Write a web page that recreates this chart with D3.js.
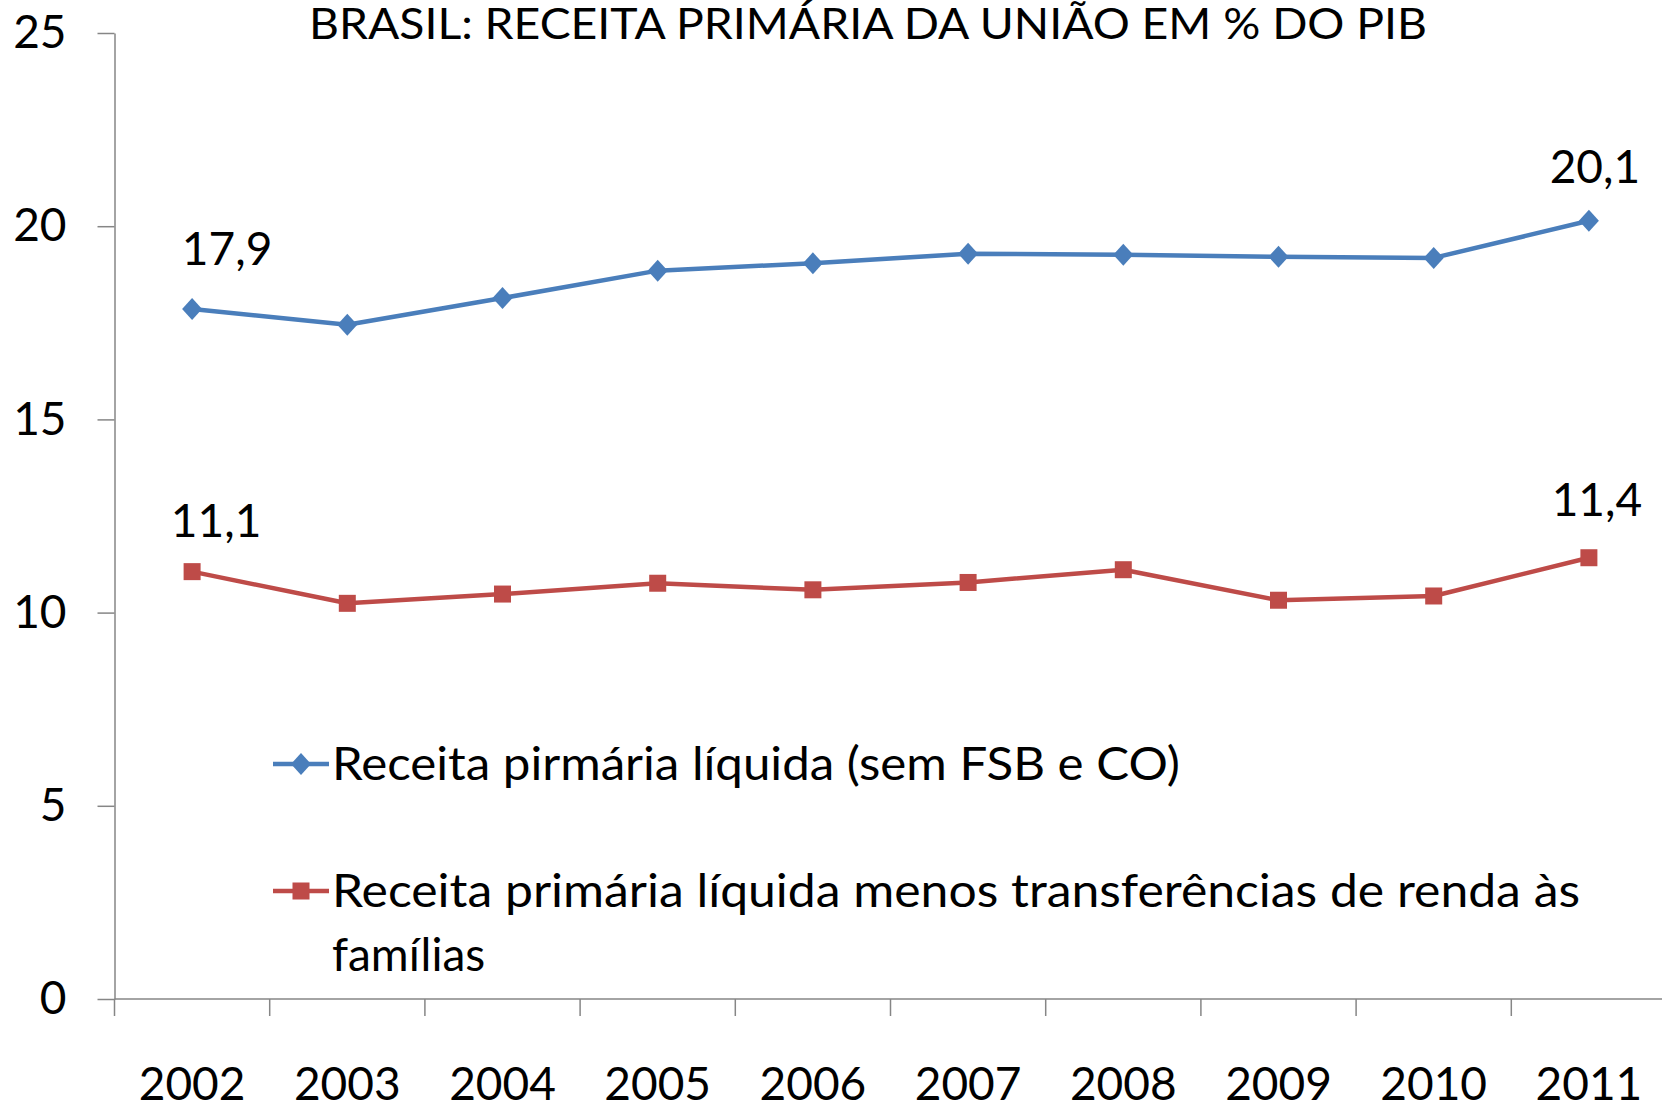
<!DOCTYPE html>
<html><head><meta charset="utf-8">
<script src="https://cdn.jsdelivr.net/npm/d3@7"></script>
<style>
html,body{margin:0;padding:0;background:#fff;}
text{font-family:Lato,"Open Sans",sans-serif;fill:#000;}
</style></head>
<body>
<svg id="chart" width="1662" height="1106"></svg>
<script>
const years = ["2002","2003","2004","2005","2006","2007","2008","2009","2010","2011"];
const receitaLiquida = [17.86,17.45,18.14,18.85,19.04,19.29,19.26,19.21,19.18,20.14];
const receitaMenosTransf = [11.06,10.24,10.48,10.76,10.59,10.78,11.11,10.32,10.43,11.42];
const yTicks = [0,5,10,15,20,25];
const seriesNames = ["Receita pirmária líquida (sem FSB e CO)",
  "Receita primária líquida menos transferências de renda às famílias"];
const title = "BRASIL: RECEITA PRIMÁRIA DA UNIÃO EM % DO PIB";

(function(){
const blue = "#4A7EBB", red = "#BE4B48", axisCol = "#868686";
const svg = d3.select("#chart");
const plotLeft = 114.5, bandW = 155.2, plotTop = 33, plotBottom = 999;

const x = d3.scaleBand().domain(years).range([plotLeft, plotLeft + bandW*years.length]).padding(0);
const y = d3.scaleLinear().domain([0,25]).range([plotBottom, plotTop]);
const cx = d => x(d) + x.bandwidth()/2;

// Title
svg.append("text").attr("x", 868).attr("y", 39).attr("text-anchor","middle")
  .attr("font-size", 43).attr("textLength", 1118).attr("lengthAdjust","spacingAndGlyphs").text(title);

// Y axis
const yAxis = svg.append("g").attr("transform", `translate(${plotLeft},0)`)
  .call(d3.axisLeft(y).tickValues(yTicks).tickSize(17).tickSizeOuter(0).tickPadding(31).tickFormat(d3.format("d")));
yAxis.select(".domain").attr("stroke", axisCol).attr("stroke-width", 1.5);
yAxis.selectAll(".tick line").attr("stroke", axisCol).attr("stroke-width", 1.5);
yAxis.selectAll(".tick text").attr("font-size", 46).attr("font-family","Lato").attr("fill","#000");

// X axis
const xg = svg.append("g");
xg.append("line").attr("x1", plotLeft).attr("x2", 1662).attr("y1", plotBottom).attr("y2", plotBottom)
  .attr("stroke", axisCol).attr("stroke-width", 1.5);
const bounds = years.map(d => x(d)).concat([x(years[years.length-1]) + x.bandwidth()]);
xg.selectAll(".xt").data(bounds).enter().append("line")
  .attr("x1", d=>d).attr("x2", d=>d).attr("y1", plotBottom).attr("y2", plotBottom+17)
  .attr("stroke", axisCol).attr("stroke-width", 1.5);
xg.selectAll(".xl").data(years).enter().append("text")
  .attr("x", d=>cx(d)).attr("y", 1100).attr("text-anchor","middle").attr("font-size", 46).text(d=>d);

// Lines
const line = d3.line().x((d,i)=>cx(years[i])).y(d=>y(d));
svg.append("path").datum(receitaLiquida).attr("d", line).attr("fill","none")
  .attr("stroke", blue).attr("stroke-width", 4.5).attr("stroke-linejoin","round");
svg.append("path").datum(receitaMenosTransf).attr("d", line).attr("fill","none")
  .attr("stroke", red).attr("stroke-width", 4.5).attr("stroke-linejoin","round");

const diamond = (g, px, py) => g.append("path")
  .attr("d", `M${px},${py-11}L${px+10},${py}L${px},${py+11}L${px-10},${py}Z`).attr("fill", blue);
const square = (g, px, py) => g.append("rect")
  .attr("x", px-8.5).attr("y", py-8.5).attr("width",17).attr("height",17).attr("fill", red);

receitaLiquida.forEach((v,i)=>diamond(svg, cx(years[i]), y(v)));
receitaMenosTransf.forEach((v,i)=>square(svg, cx(years[i]), y(v)));

// Data labels (first and last)
const fmt = v => d3.format(".1f")(v).replace(".", ",");
const labels = [
  {s: receitaLiquida, i: 0, dx: 35, dy: -44},
  {s: receitaLiquida, i: 9, dx: 6, dy: -38},
  {s: receitaMenosTransf, i: 0, dx: 24, dy: -35},
  {s: receitaMenosTransf, i: 9, dx: 8, dy: -42}
];
labels.forEach(l => {
  svg.append("text").attr("x", cx(years[l.i]) + l.dx).attr("y", y(l.s[l.i]) + l.dy)
    .attr("text-anchor","middle").attr("font-size", 46).text(fmt(l.s[l.i]));
});

// Legend
const lg = svg.append("g");
const lx1 = 273, lx2 = 329, lmid = 301;
lg.append("line").attr("x1",lx1).attr("x2",lx2).attr("y1",764).attr("y2",764).attr("stroke",blue).attr("stroke-width",4.5);
diamond(lg, lmid, 764);
lg.append("text").attr("x", 332).attr("y", 780).attr("font-size", 46)
  .attr("textLength", 848).attr("lengthAdjust","spacingAndGlyphs").text(seriesNames[0]);
lg.append("line").attr("x1",lx1).attr("x2",lx2).attr("y1",891).attr("y2",891).attr("stroke",red).attr("stroke-width",4.5);
square(lg, lmid, 891);
const parts = seriesNames[1].split(" ");
const line1 = parts.slice(0, parts.length-1).join(" ");
const line2 = parts[parts.length-1];
lg.append("text").attr("x", 332).attr("y", 907).attr("font-size", 46)
  .attr("textLength", 1248).attr("lengthAdjust","spacingAndGlyphs").text(line1);
lg.append("text").attr("x", 332).attr("y", 971).attr("font-size", 46).text(line2);
})();
</script>
</body></html>
